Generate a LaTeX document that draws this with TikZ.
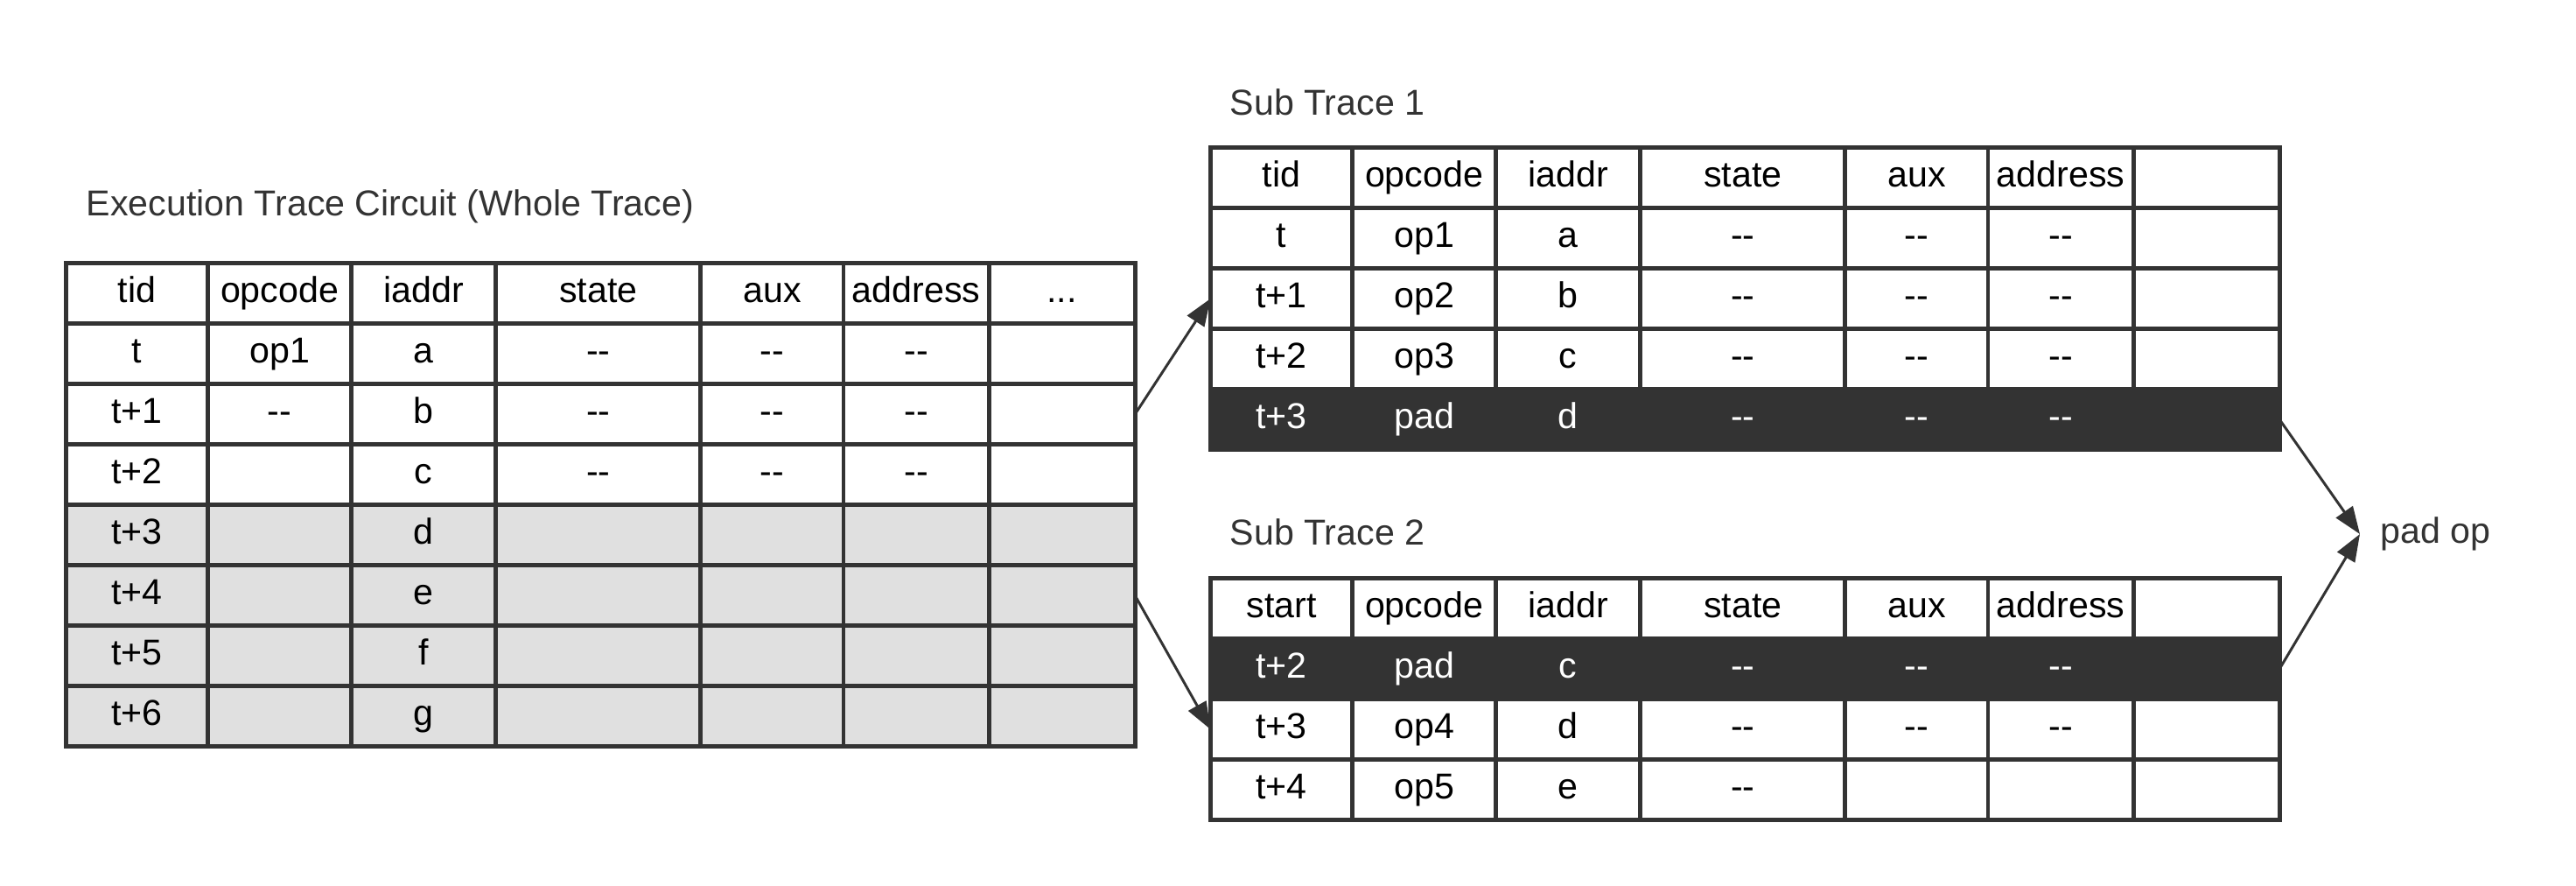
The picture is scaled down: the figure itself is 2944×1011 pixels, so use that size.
\documentclass[tikz,border=0pt]{standalone}
\usepackage{fontspec}
\setmainfont{Liberation Sans}
\usetikzlibrary{matrix,arrows.meta,positioning}
\definecolor{ink}{HTML}{333333}
\definecolor{shade}{HTML}{E0E0E0}
\newcommand\dashes{-{}-}
\tikzset{
  trace/.style={
      matrix of nodes, nodes in empty cells,
      inner sep=0pt, outer sep=0pt,
      column sep=-1.4pt, row sep=-1.4pt,
      nodes={draw=ink, line width=1.4pt, inner sep=0pt, outer sep=0pt,
          minimum height=0.69cm, text height=0.30cm, text depth=0.09cm},
      column 1/.style={nodes={minimum width=1.62cm}},
      column 2/.style={nodes={minimum width=1.64cm}},
      column 3/.style={nodes={minimum width=1.65cm}},
      column 4/.style={nodes={minimum width=2.34cm}},
      column 5/.style={nodes={minimum width=1.63cm}},
      column 6/.style={nodes={minimum width=1.66cm}},
      column 7/.style={nodes={minimum width=1.67cm}},
    },
  lbl/.style={text=ink, inner sep=0pt},
  link/.style={draw=ink, line width=0.85pt, -{Triangle[length=0.31cm,width=0.23cm]}},
}

\begin{document}
\begin{tikzpicture}[x=0.01cm, y=-0.01cm, font=\fontsize{11.7}{14}\selectfont]
      \useasboundingbox (0,0) rectangle (2944,1011);

      % whole trace
      \node (wholelbl) [lbl, anchor=west] at (98,236) {Execution Trace Circuit (Whole Trace)};
      \matrix (whole) [trace, anchor=north west,
          row 5/.style={nodes={fill=shade}}, row 6/.style={nodes={fill=shade}},
          row 7/.style={nodes={fill=shade}}, row 8/.style={nodes={fill=shade}}] at (73,298) {
          tid & opcode & iaddr & state & aux & address & ... \\
          t & op1 & a & \dashes & \dashes & \dashes & \\
          t+1 & \dashes & b & \dashes & \dashes & \dashes & \\
          t+2 & & c & \dashes & \dashes & \dashes & \\
          t+3 & & d & & & & \\
          t+4 & & e & & & & \\
          t+5 & & f & & & & \\
          t+6 & & g & & & & \\
        };

      % sub traces
      \node (sub1lbl) [lbl, anchor=west] at (1405,117) {Sub Trace 1};
      \matrix (sub1) [trace, anchor=north west,
          row 5/.style={nodes={fill=ink, text=white}}] at (1381,166) {
          tid & opcode & iaddr & state & aux & address & \\
          t & op1 & a & \dashes & \dashes & \dashes & \\
          t+1 & op2 & b & \dashes & \dashes & \dashes & \\
          t+2 & op3 & c & \dashes & \dashes & \dashes & \\
          t+3 & pad & d & \dashes & \dashes & \dashes & \\
        };

      \node (sub2lbl) [lbl, anchor=west] at (1405,608) {Sub Trace 2};
      \matrix (sub2) [trace, anchor=north west,
          row 2/.style={nodes={fill=ink, text=white}}] at (1381,658) {
          start & opcode & iaddr & state & aux & address & \\
          t+2 & pad & c & \dashes & \dashes & \dashes & \\
          t+3 & op4 & d & \dashes & \dashes & \dashes & \\
          t+4 & op5 & e & \dashes & & & \\
        };

      \node (padop) [lbl, anchor=west, inner xsep=0.23cm] at (2697,610) {pad op};

      \draw [link] (whole-3-7.east) -- (sub1-3-1.west);
      \draw [link] (whole-6-7.east) -- (sub2-3-1.west);
      \draw [link] (sub1-5-7.east) -- (padop.west);
      \draw [link] (sub2-2-7.east) -- (padop.west);
    \end{tikzpicture}
\end{document}
